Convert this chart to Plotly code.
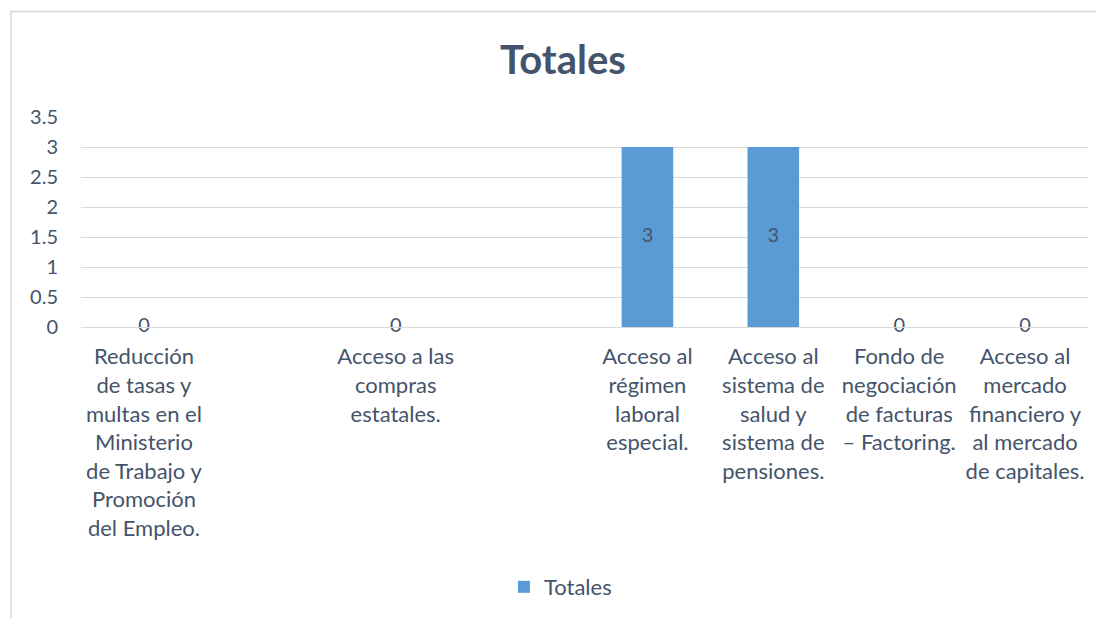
import plotly.graph_objects as go

# categories (two blank slots keep the uneven spacing of the original)
categorias = [
    "Reducción<br>de tasas y<br>multas en el<br>Ministerio<br>de Trabajo y<br>Promoción<br>del Empleo.",
    " ",
    "Acceso a las<br>compras<br>estatales.",
    "  ",
    "Acceso al<br>régimen<br>laboral<br>especial.",
    "Acceso al<br>sistema de<br>salud y<br>sistema de<br>pensiones.",
    "Fondo de<br>negociación<br>de facturas<br>– Factoring.",
    "Acceso al<br>mercado<br>financiero y<br>al mercado<br>de capitales.",
]
totales = [0, None, 0, None, 3, 3, 0, 0]
y_ticks = [0, 0.5, 1, 1.5, 2, 2.5, 3, 3.5]

TXT = "#44546A"
GRID = "#D9D9D9"
FONT = "Lato"

fig = go.Figure()
fig.add_trace(go.Bar(
    x=categorias, y=totales, name="Totales",
    marker=dict(color="#5B9BD5", line=dict(width=0)),
))

# data labels centred in the bars (Excel "center" position)
lab_x = [c for c, v in zip(categorias, totales) if v is not None]
lab_v = [v for v in totales if v is not None]
fig.add_trace(go.Scatter(
    x=lab_x, y=[v / 2 for v in lab_v], text=[str(v) for v in lab_v],
    mode="text", textposition="middle center", showlegend=False, cliponaxis=False,
    textfont=dict(family=FONT, size=20, color=TXT), hoverinfo="skip",
))

# page body adds an 8px offset, so the figure is 8px smaller and shifted
fig.update_layout(
    width=1096, height=610,
    margin=dict(l=73, r=16, t=109, b=290),
    paper_bgcolor="white", plot_bgcolor="white",
    font=dict(family=FONT, size=22, color=TXT),
    bargap=0.59,
    title=dict(text="<b>Totales</b>", x=555 / 1096, xref="container", xanchor="center",
               y=1 - 52 / 610, yref="container", yanchor="middle",
               font=dict(family=FONT, size=40, color=TXT)),
    showlegend=True,
    legend=dict(orientation="h", x=0.42, xanchor="left", y=-1.2275, yanchor="middle",
                font=dict(family=FONT, size=22, color=TXT)),
    xaxis=dict(type="category", showgrid=False, showline=True, linecolor=GRID,
               linewidth=1, ticks="", tickfont=dict(size=22), tickangle=0,
               ticklabelstandoff=10),
    yaxis=dict(range=[0, 3.5], tickvals=y_ticks, ticktext=[f"{t:g}" for t in y_ticks],
               showgrid=True, gridcolor=GRID, gridwidth=1, zeroline=False,
               showline=False, ticks="", ticklabelstandoff=22, tickfont=dict(size=20)),
    shapes=[dict(type="rect", xref="paper", yref="paper",
                 x0=(3 - 73) / 1007, x1=1.2, y0=-3, y1=(320 - 3) / 211,
                 line=dict(color=GRID, width=1.5), fillcolor="rgba(0,0,0,0)", layer="below")],
)

fig.write_html("out.html")
